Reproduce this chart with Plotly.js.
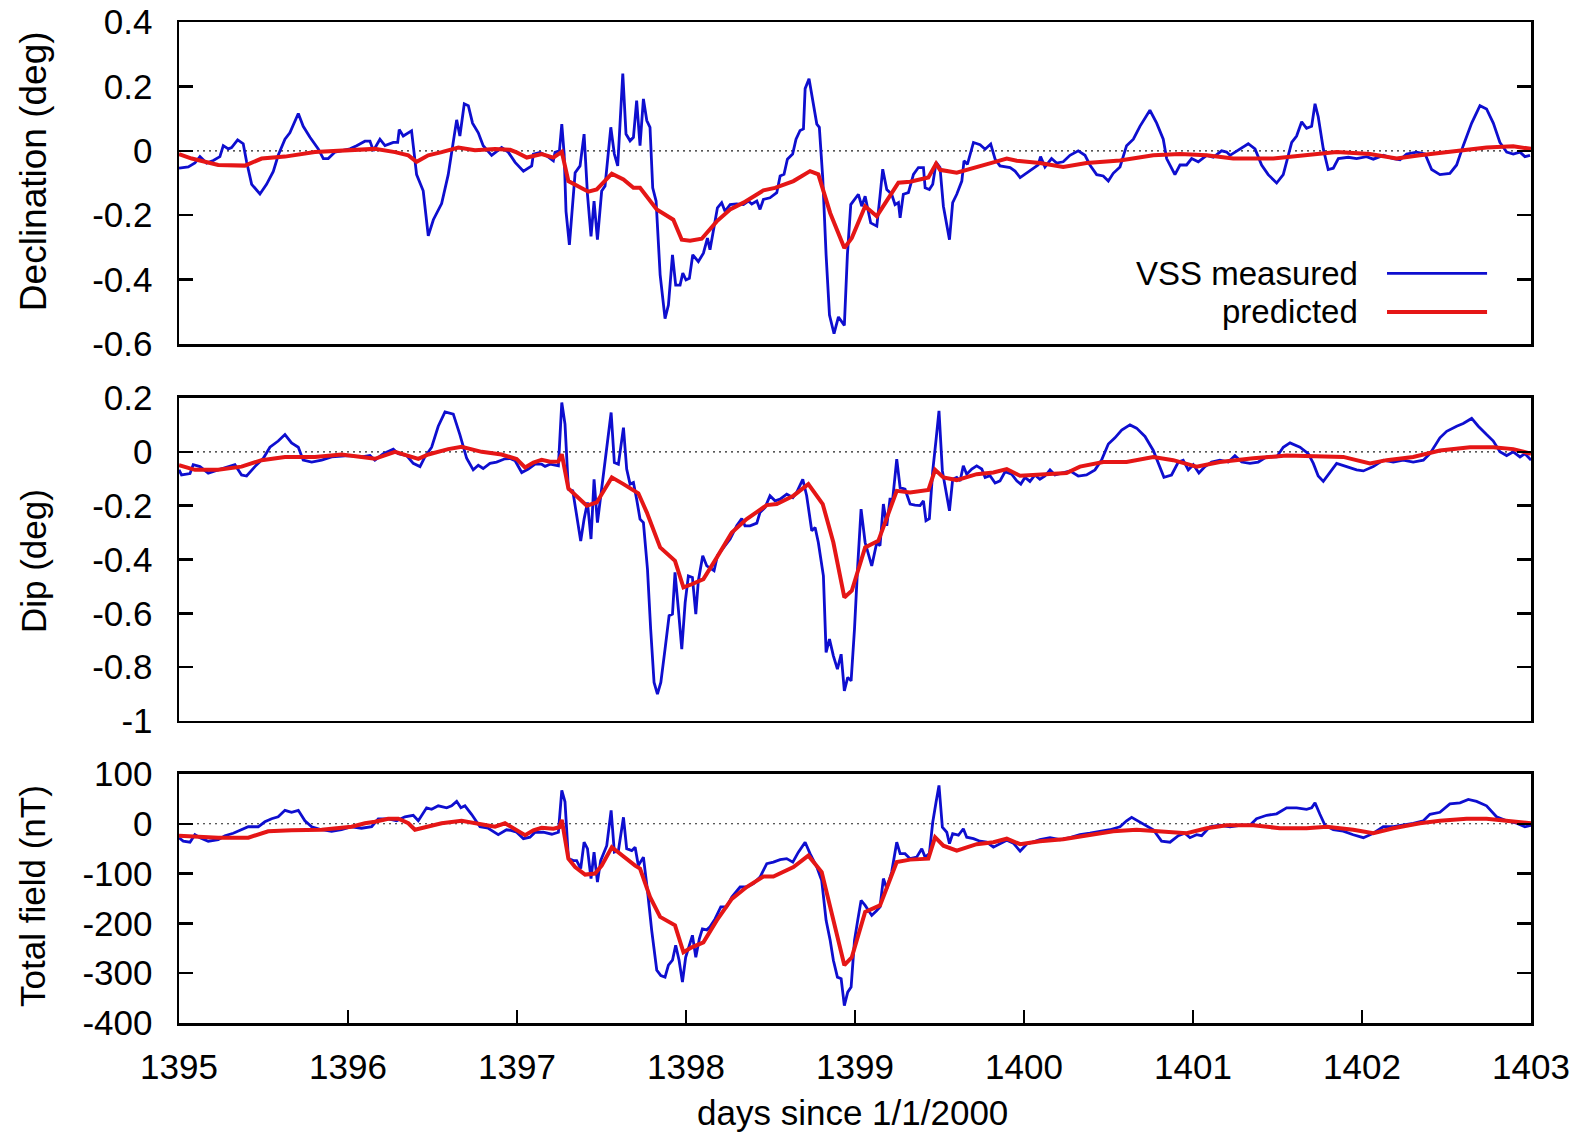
<!DOCTYPE html>
<html>
<head>
<meta charset="utf-8">
<script src="https://cdn.plot.ly/plotly-3.0.1.min.js"></script>
<style>html,body{margin:0;padding:0;background:#fff;}</style>
</head>
<body>
<div id="chart" style="width:1587px;height:1135px;"></div>
<script>
// ---------------- DATA ----------------
// Declination (deg)
const declMeasDays = [1395.0,1395.055,1395.094,1395.124,1395.163,1395.203,1395.242,1395.262,1395.292,1395.311,1395.347,1395.380,1395.400,1395.430,1395.479,1395.518,1395.558,1395.587,1395.627,1395.656,1395.706,1395.735,1395.775,1395.824,1395.854,1395.883,1395.923,1395.962,1396.012,1396.051,1396.100,1396.130,1396.150,1396.189,1396.219,1396.268,1396.294,1396.303,1396.327,1396.376,1396.406,1396.445,1396.475,1396.505,1396.554,1396.593,1396.643,1396.662,1396.688,1396.712,1396.737,1396.771,1396.800,1396.850,1396.909,1396.948,
1396.989,1397.038,1397.087,1397.097,1397.136,1397.176,1397.215,1397.225,1397.251,1397.265,1397.279,1397.290,1397.310,1397.344,1397.373,1397.397,1397.417,1397.438,1397.456,1397.476,1397.501,1397.521,1397.555,1397.576,1397.596,1397.626,1397.645,1397.669,1397.689,1397.708,1397.728,1397.748,1397.768,1397.787,1397.803,1397.823,1397.847,1397.876,1397.896,1397.920,1397.939,1397.965,1397.981,1398.000,1398.020,1398.040,1398.073,1398.103,1398.127,1398.142,1398.166,1398.186,1398.211,1398.231,1398.261,1398.300,1398.340,1398.369,1398.389,1398.419,1398.438,1398.458,1398.497,1398.537,1398.557,1398.580,1398.600,1398.631,1398.651,1398.675,1398.695,1398.705,1398.728,1398.754,1398.774,1398.789,1398.809,1398.829,1398.849,1398.876,1398.902,1398.937,1398.955,1398.975,1399.020,1399.040,1399.060,1399.093,1399.129,1399.148,1399.164,1399.188,1399.217,1399.237,1399.257,1399.267,1399.286,1399.316,1399.346,1399.375,1399.405,1399.415,1399.440,1399.460,1399.480,1399.503,1399.523,1399.559,1399.578,1399.602,1399.632,1399.645,1399.665,1399.701,1399.740,1399.770,1399.803,1399.829,1399.858,1399.918,1399.947,1399.977,
1400.015,1400.055,1400.084,1400.098,1400.124,1400.163,1400.193,1400.232,1400.272,1400.321,1400.361,1400.390,1400.430,1400.469,1400.499,1400.528,1400.568,1400.607,1400.647,1400.686,1400.745,1400.785,1400.824,1400.844,1400.893,1400.923,1400.962,1400.992,1401.031,1401.081,1401.120,1401.169,1401.199,1401.219,1401.248,1401.278,1401.327,1401.367,1401.406,1401.445,1401.495,1401.534,1401.584,1401.613,1401.643,1401.672,1401.702,1401.722,1401.741,1401.771,1401.800,1401.830,1401.860,1401.919,1401.968,1402.027,1402.067,1402.126,1402.185,1402.225,1402.264,1402.323,1402.373,1402.412,1402.461,1402.520,1402.560,1402.599,1402.649,1402.698,1402.737,1402.777,1402.816,1402.856,1402.895,1402.935,1402.964,1402.994];
const declMeas = [-0.054,-0.05,-0.038,-0.018,-0.038,-0.03,-0.018,0.016,0.006,0.01,0.034,0.022,-0.034,-0.104,-0.134,-0.104,-0.064,-0.014,0.036,0.056,0.116,0.076,0.042,0.006,-0.024,-0.024,-0.004,0,0.006,0.016,0.03,0.03,0,0.036,0.016,0.026,0.026,0.066,0.046,0.062,-0.074,-0.124,-0.264,-0.214,-0.164,-0.074,0.096,0.046,0.146,0.14,0.086,0.056,0.016,-0.014,0.01,-0.004,
-0.036,-0.063,-0.047,-0.01,-0.005,-0.016,-0.031,-0.005,0,0.083,-0.01,-0.188,-0.292,-0.068,-0.047,0.052,-0.135,-0.266,-0.156,-0.276,-0.125,-0.109,0.073,-0.01,-0.047,0.24,0.052,0.031,0.042,0.156,0.016,0.161,0.094,0.073,-0.115,-0.156,-0.385,-0.521,-0.479,-0.323,-0.417,-0.417,-0.38,-0.401,-0.396,-0.323,-0.344,-0.318,-0.271,-0.307,-0.229,-0.177,-0.161,-0.188,-0.167,-0.165,-0.167,-0.156,-0.165,-0.156,-0.182,-0.151,-0.146,-0.13,-0.078,-0.073,-0.026,-0.01,0.036,0.063,0.068,0.193,0.224,0.141,0.083,0.073,-0.083,-0.323,-0.51,-0.568,-0.516,-0.542,-0.323,-0.167,-0.135,-0.172,-0.141,-0.224,-0.234,-0.141,-0.057,-0.12,-0.135,-0.167,-0.161,-0.208,-0.135,-0.13,-0.073,-0.052,-0.052,-0.115,-0.12,-0.104,-0.036,-0.052,-0.172,-0.276,-0.161,-0.135,-0.094,-0.031,-0.042,0.026,0.019,0.005,0.021,-0.026,-0.047,-0.052,-0.063,-0.083,
-0.07,-0.054,-0.044,-0.018,-0.05,-0.024,-0.038,-0.034,-0.014,0,-0.014,-0.044,-0.074,-0.078,-0.094,-0.07,-0.05,0.016,0.036,0.076,0.126,0.086,0.036,-0.024,-0.074,-0.044,-0.044,-0.024,-0.034,-0.014,-0.02,0,-0.004,-0.014,-0.004,0.006,0.022,0.006,-0.044,-0.074,-0.1,-0.074,0.026,0.046,0.09,0.07,0.076,0.146,0.106,0.006,-0.058,-0.054,-0.024,-0.02,-0.024,-0.018,-0.026,-0.014,-0.024,-0.028,-0.01,-0.004,-0.01,-0.058,-0.074,-0.07,-0.044,0.016,0.086,0.14,0.13,0.086,0.026,-0.004,-0.01,-0.004,-0.018,-0.014];
const declPredDays = [1395.0,1395.075,1395.232,1395.390,1395.489,1395.627,1395.804,1396.002,1396.159,1396.278,1396.357,1396.406,1396.475,1396.554,1396.653,1396.751,1396.870,1396.959,1396.998,1397.058,1397.146,1397.215,1397.265,1397.304,1397.353,1397.422,1397.472,1397.561,1397.630,1397.689,1397.728,1397.827,1397.925,1397.975,1398.024,1398.093,1398.182,1398.261,1398.340,1398.458,1398.527,1398.636,1398.734,1398.783,1398.853,1398.937,1398.981,1399.060,1399.129,1399.257,1399.326,1399.434,1399.480,1399.503,1399.602,1399.720,1399.819,1399.898,1399.957,1400.094,1400.232,1400.370,1400.568,1400.765,1400.923,1401.081,1401.238,1401.475,1401.712,1401.850,1402.047,1402.205,1402.343,1402.540,1402.737,1402.895,1403.0];
const declPred = [-0.01,-0.024,-0.044,-0.046,-0.024,-0.018,-0.004,0.002,0.006,-0.004,-0.014,-0.034,-0.014,-0.004,0.01,0.002,0.006,0.003,-0.005,-0.021,-0.01,-0.021,-0.003,-0.094,-0.109,-0.127,-0.12,-0.071,-0.089,-0.115,-0.115,-0.182,-0.214,-0.276,-0.279,-0.273,-0.219,-0.182,-0.161,-0.123,-0.115,-0.094,-0.063,-0.073,-0.193,-0.302,-0.271,-0.172,-0.203,-0.099,-0.096,-0.083,-0.04,-0.059,-0.068,-0.049,-0.036,-0.024,-0.031,-0.038,-0.05,-0.038,-0.03,-0.014,-0.01,-0.014,-0.024,-0.024,-0.01,-0.004,-0.01,-0.024,-0.014,-0.002,0.01,0.014,0.006];

// Dip (deg)
const dipMeasDays = [1395.0,1395.015,1395.065,1395.084,1395.124,1395.173,1395.232,1395.292,1395.331,1395.370,1395.400,1395.449,1395.499,1395.538,1395.587,1395.627,1395.666,1395.706,1395.735,1395.785,1395.844,1395.903,1396.002,1396.080,1396.130,1396.159,1396.209,1396.268,1396.298,1396.347,1396.386,1396.426,1396.455,1396.495,1396.534,1396.574,1396.623,1396.662,1396.702,1396.741,1396.771,1396.800,1396.840,1396.879,1396.929,
1396.959,1396.989,1397.028,1397.067,1397.107,1397.146,1397.166,1397.196,1397.245,1397.265,1397.284,1397.304,1397.330,1397.353,1397.377,1397.397,1397.417,1397.438,1397.456,1397.476,1397.495,1397.531,1397.557,1397.576,1397.600,1397.630,1397.649,1397.669,1397.689,1397.708,1397.728,1397.748,1397.772,1397.791,1397.811,1397.831,1397.851,1397.876,1397.900,1397.920,1397.935,1397.955,1397.975,1397.995,1398.014,1398.038,1398.058,1398.073,1398.099,1398.123,1398.142,1398.166,1398.186,1398.221,1398.261,1398.300,1398.330,1398.349,1398.379,1398.419,1398.438,1398.468,1398.497,1398.527,1398.557,1398.596,1398.632,1398.655,1398.691,1398.714,1398.744,1398.764,1398.783,1398.813,1398.829,1398.849,1398.872,1398.896,1398.918,1398.937,1398.957,1398.977,1398.997,1399.016,1399.036,1399.060,1399.099,1399.129,1399.148,1399.168,1399.188,1399.207,1399.223,1399.247,1399.267,1399.296,1399.326,1399.355,1399.385,1399.405,1399.420,1399.440,1399.460,1399.480,1399.497,1399.517,1399.559,1399.578,1399.602,1399.622,1399.641,1399.661,1399.691,1399.720,1399.750,1399.770,1399.799,1399.829,1399.858,1399.888,1399.927,1399.957,1399.981,
1400.006,1400.035,1400.065,1400.094,1400.124,1400.154,1400.183,1400.223,1400.272,1400.321,1400.370,1400.420,1400.459,1400.499,1400.538,1400.578,1400.627,1400.666,1400.716,1400.765,1400.804,1400.828,1400.873,1400.913,1400.942,1400.972,1401.002,1401.035,1401.071,1401.110,1401.159,1401.209,1401.248,1401.288,1401.337,1401.386,1401.436,1401.495,1401.534,1401.574,1401.633,1401.682,1401.712,1401.741,1401.771,1401.810,1401.850,1401.909,1401.968,1402.008,1402.067,1402.126,1402.185,1402.244,1402.303,1402.363,1402.402,1402.461,1402.501,1402.560,1402.599,1402.649,1402.688,1402.737,1402.777,1402.816,1402.856,1402.895,1402.935,1402.964,1403.0];
const dipMeas = [-0.067,-0.086,-0.081,-0.048,-0.055,-0.079,-0.067,-0.055,-0.048,-0.086,-0.09,-0.055,-0.024,0.017,0.04,0.064,0.033,0.017,-0.031,-0.038,-0.031,-0.019,-0.014,-0.019,-0.014,-0.031,-0.007,0.01,-0.007,-0.014,-0.043,-0.055,-0.019,0.017,0.095,0.148,0.14,0.064,-0.024,-0.067,-0.05,-0.062,-0.043,-0.038,-0.026,
-0.025,-0.033,-0.077,-0.064,-0.046,-0.046,-0.054,-0.046,-0.052,0.183,0.103,-0.139,-0.145,-0.238,-0.331,-0.25,-0.188,-0.324,-0.102,-0.263,-0.163,0.01,0.146,-0.04,-0.046,0.09,-0.064,-0.12,-0.114,-0.176,-0.25,-0.263,-0.436,-0.659,-0.857,-0.9,-0.857,-0.733,-0.609,-0.603,-0.448,-0.585,-0.733,-0.56,-0.461,-0.467,-0.603,-0.479,-0.386,-0.424,-0.433,-0.442,-0.386,-0.355,-0.324,-0.275,-0.248,-0.275,-0.275,-0.265,-0.225,-0.207,-0.163,-0.182,-0.176,-0.157,-0.17,-0.151,-0.102,-0.163,-0.293,-0.281,-0.337,-0.461,-0.745,-0.696,-0.758,-0.807,-0.752,-0.888,-0.838,-0.851,-0.659,-0.424,-0.213,-0.337,-0.424,-0.337,-0.349,-0.194,-0.275,-0.176,-0.176,-0.027,-0.133,-0.139,-0.194,-0.198,-0.2,-0.182,-0.256,-0.248,-0.071,0.047,0.152,-0.071,-0.219,-0.102,-0.095,-0.108,-0.052,-0.083,-0.064,-0.052,-0.064,-0.095,-0.089,-0.116,-0.108,-0.074,-0.083,-0.108,-0.12,
-0.095,-0.11,-0.086,-0.102,-0.09,-0.067,-0.086,-0.079,-0.071,-0.09,-0.086,-0.067,-0.031,0.029,0.052,0.081,0.1,0.088,0.057,0.005,-0.055,-0.095,-0.086,-0.038,-0.031,-0.067,-0.048,-0.079,-0.055,-0.038,-0.031,-0.038,-0.014,-0.038,-0.043,-0.038,-0.019,-0.019,0.017,0.033,0.017,-0.007,-0.043,-0.09,-0.11,-0.079,-0.043,-0.055,-0.067,-0.071,-0.055,-0.031,-0.038,-0.031,-0.038,-0.031,-0.007,0.052,0.076,0.095,0.105,0.124,0.095,0.064,0.04,0,-0.014,0,-0.019,-0.007,-0.031];
const dipPredDays = [1395.0,1395.094,1395.232,1395.370,1395.489,1395.627,1395.804,1395.962,1396.080,1396.159,1396.278,1396.416,1396.475,1396.593,1396.672,1396.791,1396.909,1396.948,1396.998,1397.048,1397.097,1397.146,1397.196,1397.245,1397.265,1397.304,1397.353,1397.413,1397.472,1397.561,1397.630,1397.718,1397.768,1397.847,1397.935,1397.985,1398.034,1398.103,1398.182,1398.271,1398.359,1398.478,1398.537,1398.636,1398.724,1398.809,1398.872,1398.937,1398.981,1399.060,1399.138,1399.247,1399.326,1399.434,1399.474,1399.523,1399.602,1399.720,1399.819,1399.898,1399.977,1400.094,1400.252,1400.331,1400.469,1400.607,1400.765,1400.883,1401.021,1401.159,1401.357,1401.554,1401.751,1401.889,1402.047,1402.146,1402.303,1402.461,1402.639,1402.777,1402.895,1403.0];
const dipPred = [-0.05,-0.067,-0.067,-0.055,-0.031,-0.019,-0.019,-0.01,-0.019,-0.026,0,-0.026,-0.01,0.01,0.019,0,-0.01,-0.019,-0.027,-0.058,-0.04,-0.03,-0.037,-0.036,-0.009,-0.136,-0.163,-0.2,-0.188,-0.095,-0.12,-0.154,-0.225,-0.355,-0.405,-0.504,-0.492,-0.473,-0.393,-0.3,-0.25,-0.198,-0.194,-0.163,-0.12,-0.194,-0.337,-0.541,-0.516,-0.355,-0.331,-0.145,-0.151,-0.142,-0.067,-0.095,-0.105,-0.083,-0.077,-0.064,-0.089,-0.086,-0.079,-0.055,-0.038,-0.038,-0.019,-0.031,-0.055,-0.038,-0.024,-0.014,-0.019,-0.019,-0.043,-0.031,-0.019,0.005,0.017,0.017,0.01,-0.007];

// Total field (nT)
const totMeasDays = [1395.0,1395.025,1395.065,1395.094,1395.124,1395.173,1395.232,1395.272,1395.321,1395.370,1395.410,1395.469,1395.508,1395.548,1395.587,1395.627,1395.666,1395.706,1395.745,1395.785,1395.844,1395.903,1395.962,1396.021,1396.080,1396.140,1396.179,1396.238,1396.288,1396.337,1396.386,1396.416,1396.465,1396.495,1396.534,1396.584,1396.613,1396.643,1396.668,1396.692,1396.731,1396.781,1396.830,1396.889,1396.938,
1396.959,1396.998,1397.038,1397.077,1397.107,1397.156,1397.206,1397.245,1397.265,1397.284,1397.304,1397.334,1397.353,1397.377,1397.397,1397.417,1397.438,1397.456,1397.476,1397.495,1397.531,1397.557,1397.576,1397.600,1397.630,1397.649,1397.679,1397.699,1397.718,1397.748,1397.772,1397.797,1397.827,1397.851,1397.876,1397.896,1397.920,1397.939,1397.959,1397.979,1397.998,1398.018,1398.038,1398.058,1398.079,1398.097,1398.123,1398.142,1398.172,1398.206,1398.241,1398.271,1398.320,1398.359,1398.399,1398.438,1398.478,1398.517,1398.557,1398.596,1398.632,1398.665,1398.705,1398.734,1398.774,1398.803,1398.829,1398.853,1398.872,1398.896,1398.918,1398.937,1398.957,1398.977,1398.997,1399.016,1399.036,1399.060,1399.099,1399.129,1399.148,1399.168,1399.188,1399.217,1399.247,1399.267,1399.296,1399.326,1399.365,1399.395,1399.415,1399.440,1399.460,1399.480,1399.497,1399.517,1399.543,1399.559,1399.578,1399.612,1399.641,1399.661,1399.701,1399.740,1399.779,1399.819,1399.858,1399.898,1399.937,1399.977,
1400.015,1400.055,1400.094,1400.154,1400.213,1400.272,1400.331,1400.390,1400.449,1400.508,1400.568,1400.607,1400.637,1400.686,1400.725,1400.765,1400.814,1400.864,1400.913,1400.952,1400.982,1401.021,1401.051,1401.100,1401.159,1401.219,1401.278,1401.337,1401.376,1401.436,1401.495,1401.554,1401.613,1401.672,1401.702,1401.722,1401.751,1401.781,1401.830,1401.889,1401.948,1402.008,1402.067,1402.126,1402.185,1402.244,1402.303,1402.363,1402.402,1402.461,1402.520,1402.580,1402.629,1402.678,1402.737,1402.796,1402.856,1402.915,1402.964,1403.0];
const totMeas = [-28,-35,-37,-22,-28,-35,-32,-24,-19,-12,-6,-6,4,10,14,27,23,27,6,-6,-12,-15,-12,-6,-9,-6,10,10,6,14,17,6,32,29,36,32,36,45,32,36,19,-6,-9,-22,-12,
-13,-17,-30,-27,-17,-17,-21,-17,67,44,-70,-74,-74,-90,-37,-50,-110,-57,-117,-74,-44,27,-57,-54,13,-50,-54,-47,-84,-67,-134,-214,-294,-305,-308,-284,-274,-244,-274,-318,-268,-244,-224,-268,-231,-211,-213,-207,-191,-167,-167,-147,-127,-127,-120,-107,-80,-77,-72,-70,-77,-57,-37,-60,-87,-114,-194,-234,-274,-308,-311,-365,-338,-328,-234,-194,-154,-164,-184,-174,-167,-110,-130,-97,-37,-60,-60,-70,-67,-50,-67,-60,3,44,77,-7,-17,-40,-20,-23,-10,-27,-30,-35,-37,-47,-40,-33,-39,-55,
-41,-37,-32,-28,-32,-28,-22,-19,-15,-12,-6,6,13,4,-3,-12,-35,-37,-24,-19,-28,-22,-24,-6,-3,-6,-3,-3,10,17,20,32,32,29,32,42,19,-3,-12,-15,-22,-28,-19,-6,-6,-3,1,6,19,23,40,42,49,45,36,14,6,1,-6,-3];
const totPredDays = [1395.0,1395.094,1395.232,1395.410,1395.528,1395.666,1395.844,1396.021,1396.100,1396.159,1396.238,1396.298,1396.357,1396.396,1396.475,1396.554,1396.672,1396.751,1396.870,1396.929,1396.998,1397.048,1397.097,1397.146,1397.215,1397.251,1397.265,1397.304,1397.344,1397.403,1397.462,1397.501,1397.561,1397.630,1397.699,1397.728,1397.787,1397.847,1397.935,1397.985,1398.034,1398.103,1398.182,1398.271,1398.359,1398.458,1398.517,1398.636,1398.724,1398.803,1398.862,1398.937,1398.981,1399.060,1399.148,1399.247,1399.326,1399.434,1399.474,1399.523,1399.602,1399.720,1399.819,1399.898,1399.977,1400.094,1400.232,1400.370,1400.528,1400.666,1400.804,1400.962,1401.081,1401.199,1401.357,1401.514,1401.672,1401.791,1401.948,1402.067,1402.185,1402.343,1402.461,1402.619,1402.737,1402.856,1403.0];
const totPred = [-24,-26,-28,-28,-15,-13,-12,-6,1,4,10,10,1,-12,-6,1,6,1,-6,1,-13,-23,-13,-8,-10,-7,8,-70,-87,-102,-100,-84,-47,-66,-84,-90,-147,-187,-204,-258,-248,-238,-194,-151,-127,-106,-106,-87,-64,-97,-177,-284,-268,-177,-164,-77,-72,-70,-27,-44,-54,-41,-37,-30,-41,-35,-31,-24,-15,-12,-15,-19,-9,-3,-3,-9,-9,-6,-12,-19,-9,1,6,10,10,6,1];

// Tick labels
const xTickVals = [1395,1396,1397,1398,1399,1400,1401,1402,1403];
const xTickText = ['1395','1396','1397','1398','1399','1400','1401','1402','1403'];
const declTickVals = [-0.6,-0.4,-0.2,0,0.2,0.4];
const declTickText = ['-0.6','-0.4','-0.2','0','0.2','0.4'];
const dipTickVals = [-1,-0.8,-0.6,-0.4,-0.2,0,0.2];
const dipTickText = ['-1','-0.8','-0.6','-0.4','-0.2','0','0.2'];
const totTickVals = [-400,-300,-200,-100,0,100];
const totTickText = ['-400','-300','-200','-100','0','100'];

const seriesNames = ['VSS measured','predicted'];
const axisTitles = ['Declination (deg)','Dip (deg)','Total field (nT)'];
const xTitle = 'days since 1/1/2000';

// ---------------- STYLE ----------------
const BLUE = '#0e0ecf';
const RED = '#e51616';
const FONT = 'Liberation Sans, Arial, Helvetica, sans-serif';
const TICKFONT = {family: FONT, size: 35, color: '#000'};

function meas(x, y, xa, ya) {
  return {x: x, y: y, xaxis: xa, yaxis: ya, type: 'scatter', mode: 'lines',
    name: seriesNames[0], showlegend: false, line: {color: BLUE, width: 2.8}, hoverinfo: 'skip'};
}
function pred(x, y, xa, ya) {
  return {x: x, y: y, xaxis: xa, yaxis: ya, type: 'scatter', mode: 'lines',
    name: seriesNames[1], showlegend: false, line: {color: RED, width: 4}, hoverinfo: 'skip'};
}

const data = [
  meas(declMeasDays, declMeas, 'x', 'y'),
  pred(declPredDays, declPred, 'x', 'y'),
  meas(dipMeasDays, dipMeas, 'x2', 'y2'),
  pred(dipPredDays, dipPred, 'x2', 'y2'),
  meas(totMeasDays, totMeas, 'x3', 'y3'),
  pred(totPredDays, totPred, 'x3', 'y3')
];

function xAxis(anchor, labels) {
  return {
    anchor: anchor, domain: [0, 1], range: [1395, 1403],
    showline: true, linecolor: '#000', linewidth: 2.5, mirror: true,
    showgrid: false, zeroline: false,
    ticks: labels ? 'inside' : '', ticklen: 13, tickwidth: 2.5, tickcolor: '#000',
    tickmode: 'array', tickvals: xTickVals, ticktext: xTickText,
    showticklabels: labels, tickfont: TICKFONT, ticklabelstandoff: 11
  };
}
function yAxis(anchor, domain, range, tv, tt) {
  return {
    anchor: anchor, domain: domain, range: range,
    showline: true, linecolor: '#000', linewidth: 2.5, mirror: 'ticks',
    showgrid: false, zeroline: false,
    ticks: 'inside', ticklen: 14, tickwidth: 2.5, tickcolor: '#000',
    tickmode: 'array', tickvals: tv, ticktext: tt,
    tickfont: TICKFONT, ticklabelstandoff: 17
  };
}

function zeroLine(xa, ya) {
  return {type: 'line', xref: xa + ' domain', x0: 0, x1: 1, yref: ya, y0: 0, y1: 0,
    line: {color: '#222', width: 1.2, dash: '2px,4px'}, layer: 'below'};
}

const titleFont = {family: FONT, size: 35, color: '#000'};
const legendFont = {family: FONT, size: 33, color: '#000'};

const layout = {
  width: 1587, height: 1135, autosize: false,
  margin: {l: 179, r: 56, t: 22, b: 112, pad: 0},
  paper_bgcolor: '#fff', plot_bgcolor: '#fff',
  font: {family: FONT, color: '#000'},
  showlegend: false, hovermode: false,
  xaxis: xAxis('y', false),
  xaxis2: xAxis('y2', false),
  xaxis3: xAxis('y3', true),
  yaxis: yAxis('x', [0.6783, 1], [-0.6, 0.4], declTickVals, declTickText),
  yaxis2: yAxis('x2', [0.3017, 0.6244], [-1, 0.2], dipTickVals, dipTickText),
  yaxis3: yAxis('x3', [0, 0.2488], [-400, 100], totTickVals, totTickText),
  shapes: [
    zeroLine('x', 'y'), zeroLine('x2', 'y2'), zeroLine('x3', 'y3'),
    {type: 'line', xref: 'paper', yref: 'paper', x0: 0.8935, x1: 0.9675, y0: 0.7488, y1: 0.7488,
      line: {color: BLUE, width: 2.8}},
    {type: 'line', xref: 'paper', yref: 'paper', x0: 0.8935, x1: 0.9675, y0: 0.7103, y1: 0.7103,
      line: {color: RED, width: 4}}
  ],
  annotations: [
    {text: axisTitles[0], xref: 'paper', yref: 'paper', x: -0.108, y: 0.851, textangle: -90,
      showarrow: false, xanchor: 'center', yanchor: 'middle', font: {family: FONT, size: 37, color: '#000'}},
    {text: axisTitles[1], xref: 'paper', yref: 'paper', x: -0.108, y: 0.4615, textangle: -90,
      showarrow: false, xanchor: 'center', yanchor: 'middle', font: titleFont},
    {text: axisTitles[2], xref: 'paper', yref: 'paper', x: -0.108, y: 0.1269, textangle: -90,
      showarrow: false, xanchor: 'center', yanchor: 'middle', font: titleFont},
    {text: xTitle, xref: 'paper', yref: 'paper', x: 0.4985, y: -0.0899,
      showarrow: false, xanchor: 'center', yanchor: 'middle', font: titleFont},
    {text: seriesNames[0], xref: 'paper', yref: 'paper', x: 0.8735, y: 0.7488,
      showarrow: false, xanchor: 'right', yanchor: 'middle', font: legendFont},
    {text: seriesNames[1], xref: 'paper', yref: 'paper', x: 0.8735, y: 0.7103,
      showarrow: false, xanchor: 'right', yanchor: 'middle', font: legendFont}
  ]
};

Plotly.newPlot('chart', data, layout, {displayModeBar: false, staticPlot: true});
</script>
</body>
</html>
